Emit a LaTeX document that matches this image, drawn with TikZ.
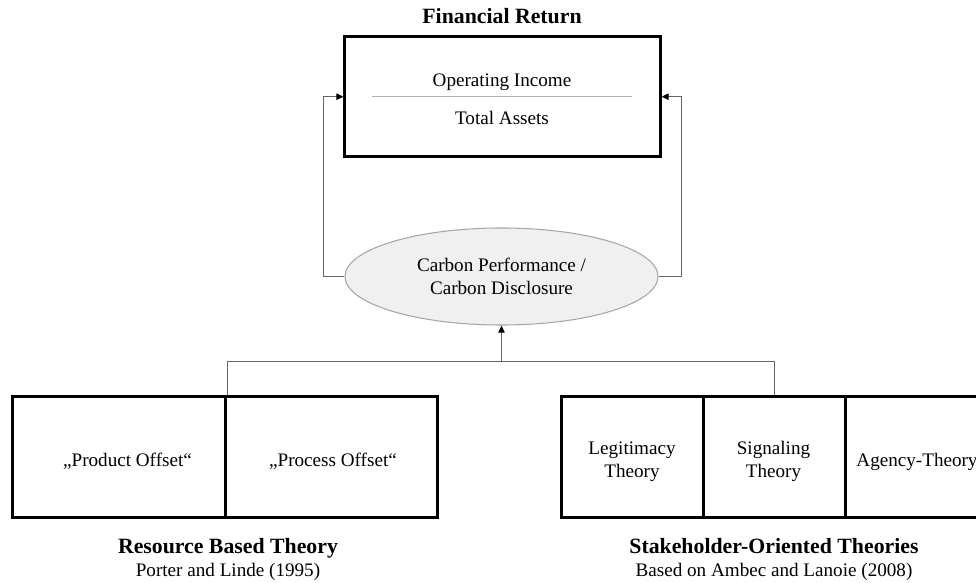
\documentclass[tikz,border=0pt]{standalone}
\usepackage{fontspec}
\setmainfont{Liberation Serif}
\usetikzlibrary{shapes.geometric,arrows.meta}

\begin{document}
\begin{tikzpicture}[x=0.025cm,y=-0.025cm,
    every node/.style={font=\fontsize{13.6}{16.3}\selectfont,text height=0.7em,text depth=0.22em,yshift=-2.5pt},
    frame/.style={draw,line width=2.1pt,inner sep=0pt,minimum height=3.015cm,yshift=2.5pt},
    head/.style={font=\fontsize{15.5}{18}\selectfont\bfseries},
    link/.style={draw=black!60,line width=0.75pt},
    tip/.style={-{Triangle[length=5pt,width=4.5pt,color=black]}}]
    \useasboundingbox (0,0) rectangle (976,583);
    \clip (0,0) rectangle (976,583);

    % return on assets
    \node[head] (title) at (502,17) {Financial Return};
    \node[frame,minimum width=7.875cm,minimum height=3cm] (roa) at (502.5,96.7) {};
    \node (income) at (502,80) {Operating Income};
    \node (assets) at (502,118) {Total Assets};
    \draw[black!30,line width=0.6pt] (371.7,96.7) -- (631.7,96.7);

    % carbon node in the middle
    \node[ellipse,draw=black!35,fill=black!6,line width=0.75pt,inner sep=0pt,
          text height=,text depth=,yshift=2.5pt,
          minimum width=7.825cm,minimum height=2.425cm,align=center] (carbon) at (501.5,276.5)
          {Carbon Performance /\\Carbon Disclosure};
    \draw[link,tip] (carbon.west) -- ++(-21,0) |- (roa.west);
    \draw[link,tip] (carbon.east) -- ++(23,0) |- (roa.east);

    % resource based theory
    \node[frame,minimum width=5.325cm] (product) at (119.2,457) {};
    \node[frame,minimum width=5.3cm] (process) at (331.7,457) {};
    \node (productlbl) at (127.5,460) {„Product Offset“};
    \node (processlbl) at (333,460) {„Process Offset“};
    \node[head] (rbt) at (228,546.7) {Resource Based Theory};
    \node (rbtsrc) at (228,570) {Porter and Linde (1995)};

    % stakeholder theories
    \node[frame,minimum width=3.54cm] (legit) at (632.5,457) {};
    \node[frame,minimum width=3.54cm] (signal) at (774.2,457) {};
    \node[frame,minimum width=3.54cm] (agency) at (915.8,457) {};
    \node[align=center,text height=,text depth=] (legitlbl) at (632,458) {Legitimacy\\Theory};
    \node[align=center,text height=,text depth=] (signallbl) at (773.5,458) {Signaling\\Theory};
    \node (agencylbl) at (917,460) {Agency-Theory};
    \node[head] (sot) at (774,546.7) {Stakeholder-Oriented Theories};
    \node (sotsrc) at (774,570) {Based on Ambec and Lanoie (2008)};

    % both groups feed the carbon node
    \coordinate[yshift=2.5pt] (join) at (carbon.south |- 0,361.7);
    \draw[link] (product.north east) -- (product.north east |- join) -- (signal.north |- join) -- (signal.north);
    \draw[link,tip] (join) -- (carbon.south);
\end{tikzpicture}
\end{document}
